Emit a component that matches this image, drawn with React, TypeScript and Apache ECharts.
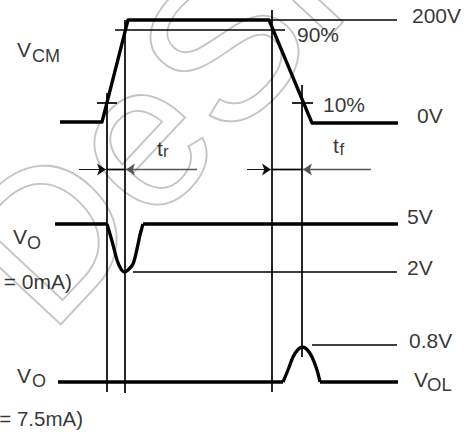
import React, { useEffect, useRef } from "react";
import * as echarts from "echarts";

// Time (x) and level (y) are in drawing units of the diagram; y grows downward.
const vcmWave: number[][] = [[60, 122], [102, 122], [128, 20], [269, 20], [312, 123], [398, 123]];
const voHighLeft: number[][] = [[55, 224], [107, 224]];
const voDip: number[][] = [[107, 224], [112, 241], [117, 260], [121, 269], [124.5, 272], [128, 270], [133, 264], [137, 249], [140, 235], [143, 224]];
const voHighRight: number[][] = [[143, 224], [398, 224]];
const volLowLeft: number[][] = [[58, 382], [283, 382]];
const volBump: number[][] = [[283, 382], [288, 370], [293, 357], [298, 349.5], [302.5, 347], [307, 349.5], [312, 357], [317, 370], [320, 382]];
const volLowRight: number[][] = [[320, 382], [398, 382]];

const refLines: number[][][] = [
  [[269, 20], [397, 20]],   // 200V
  [[115, 30], [285, 30]],   // 90%
  [[97, 103], [117, 103]],  // 10% rise
  [[292, 103], [313, 103]], // 10% fall
  [[133, 272], [397, 272]], // 2V
  [[312, 345], [397, 345]], // 0.8V
  [[107, 93], [107, 392]],  // verticals
  [[125, 20], [125, 393]],
  [[272, 10], [272, 392]],
  [[302, 85], [302, 357]],
  [[107, 169.5], [125, 169.5]],
  [[272, 169.5], [302, 169.5]],
];

const arrowsIn: number[][][] = [
  [[79, 169.5], [106, 169.5]],
  [[247, 169.5], [271, 169.5]],
];
const arrowsBack: number[][][] = [
  [[197, 169.5], [126, 169.5]],
  [[371, 169.5], [303, 169.5]],
];

const labelTexts = ["200V", "90%", "10%", "0V", "5V", "2V", "0.8V", "V", "CM", "t", "r", "t", "f", "V", "O", "= 0mA)", "V", "O", "= 7.5mA)", "V", "OL"];
const labelX = [412, 297, 323, 417, 407, 407, 409, 17, 32, 157, 163, 333, 339.5, 13, 27, 72, 17, 32, 83, 414, 427];
const labelY = [15, 34.5, 104.5, 115, 216.5, 267.5, 340, 49, 55.5, 148, 151.5, 145, 149.5, 236, 242.5, 281.5, 375.5, 381, 418.5, 379.5, 384.5];
const labelSize = [21, 21, 21, 21, 21, 21, 21, 21, 18, 21, 17, 21, 17, 21, 18, 21, 21, 18, 20.5, 21, 18.5];

export default function App() {
  const ref = useRef<HTMLDivElement>(null);
  useEffect(() => {
    document.body.style.margin = "0";
    const chart = echarts.init(ref.current!, null, { renderer: "svg" });
    const font = "'Liberation Sans', Arial, sans-serif";
    const thick = (data: number[][], smooth: number | boolean = false) => ({
      type: "line",
      data,
      smooth,
      showSymbol: false,
      silent: true,
      z: 4,
      lineStyle: { color: "#000", width: 3.3, cap: "butt", join: "round" },
    });
    const option: any = {
      animation: false,
      backgroundColor: "#fff",
      grid: { left: 0, right: 0, top: 0, bottom: 0 },
      xAxis: { type: "value", min: 0, max: 467, show: false },
      yAxis: { type: "value", min: 0, max: 434, inverse: true, show: false },
      graphic: [
        {
          type: "text",
          x: -3,
          y: 288,
          rotation: 0.82,
          z: 0,
          silent: true,
          style: {
            text: "DeSi",
            fontSize: 205,
            fontFamily: font,
            align: "left",
            verticalAlign: "middle",
            fill: "none",
            stroke: "#c4c4c4",
            lineWidth: 1.8,
          },
        },
      ],
      series: [
        ...refLines.map((seg) => ({
          type: "line",
          data: seg,
          showSymbol: false,
          silent: true,
          z: 3,
          lineStyle: { color: "#000", width: 1.7, cap: "butt" },
        })),
        thick(vcmWave),
        thick(voHighLeft),
        thick(voDip, 0.3),
        thick(voHighRight),
        thick(volLowLeft),
        thick(volBump, 0.3),
        thick(volLowRight),
        {
          type: "lines",
          coordinateSystem: "cartesian2d",
          silent: true,
          z: 3,
          symbol: ["none", "arrow"],
          symbolSize: [7, 9],
          lineStyle: { color: "#111", width: 1, opacity: 1 },
          data: arrowsIn.map((c) => ({ coords: c })),
        },
        {
          type: "lines",
          coordinateSystem: "cartesian2d",
          silent: true,
          z: 3,
          symbol: ["none", "arrow"],
          symbolSize: [7, 9],
          lineStyle: { color: "#555", width: 1.4, opacity: 1 },
          data: arrowsBack.map((c) => ({ coords: c })),
        },
        {
          type: "scatter",
          symbolSize: 0,
          silent: true,
          z: 5,
          data: labelTexts.map((t, i) => ({
            value: [labelX[i], labelY[i]],
            label: {
              show: true,
              position: [0, 0],
              formatter: t,
              fontSize: labelSize[i],
              fontFamily: font,
              color: "#000",
              align: t.startsWith("=") ? "right" : "left",
              verticalAlign: "middle",
            },
          })),
        },
      ],
    };
    chart.setOption(option);
    return () => chart.dispose();
  }, []);
  return <div ref={ref} style={{ width: 467, height: 434 }} />;
}
